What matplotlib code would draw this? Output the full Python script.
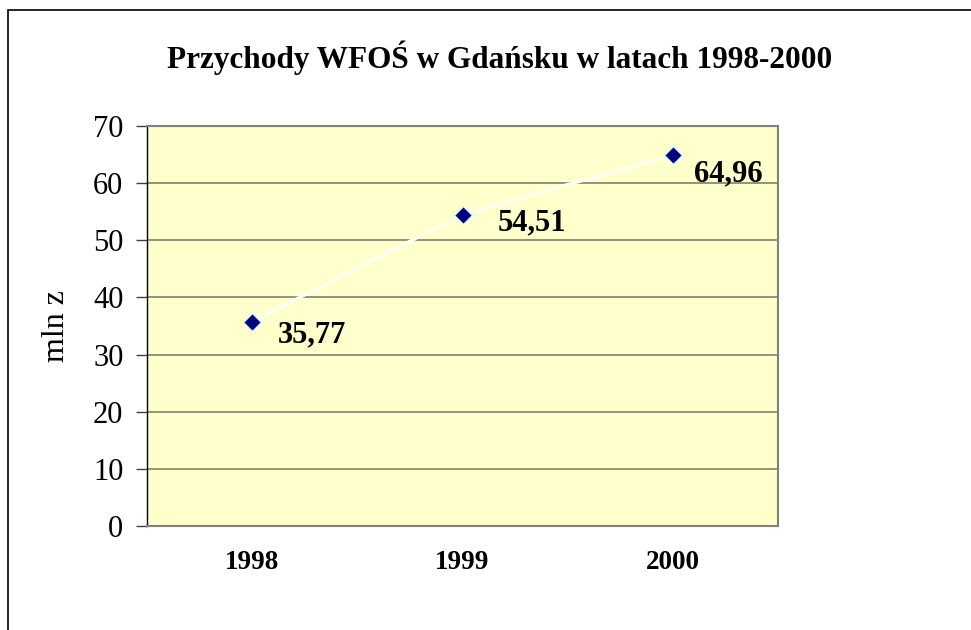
import matplotlib.pyplot as plt
from matplotlib.patches import Rectangle

years = ["1998", "1999", "2000"]
values = [35.77, 54.51, 64.96]
value_labels = ["35,77", "54,51", "64,96"]
y_ticks = [0, 10, 20, 30, 40, 50, 60, 70]

plt.rcParams['font.family'] = ['Liberation Serif', 'DejaVu Serif']

fig = plt.figure(figsize=(9.71, 6.30), dpi=100)
ax = fig.add_axes([147/971, 1-526/630, 631/971, 400/630])

# outer chart frame (cut off at right and bottom)
fig.patches.append(Rectangle((8/971, -0.1), 1.2, 1-10/630+0.1, transform=fig.transFigure,
                             fill=False, edgecolor='black', linewidth=1.2))

ax.set_facecolor('#FFFFCC')
x = list(range(len(years)))
ax.plot(x, values, color='#FFFFF0', linewidth=2.5, zorder=2)
ax.plot(x, values, linestyle='none', marker='D', markersize=9,
        markerfacecolor='#000080', markeredgecolor='#CCFFFF', markeredgewidth=1, zorder=3)

# label offsets in pixels
offsets = [(26, -13), (35, -8), (21, -19)]
for xi, v, lab, off in zip(x, values, value_labels, offsets):
    ax.annotate(lab, (xi, v), xytext=off, textcoords='offset pixels', fontsize=22,
                fontweight='bold', ha='left', va='center')

ax.set_xlim(-0.5, len(years) - 0.5)
ax.set_ylim(0, 70)
ax.set_yticks(y_ticks)
ax.set_yticklabels([str(t) for t in y_ticks], fontsize=22)
ax.set_xticks(x)
ax.set_xticklabels(years, fontsize=19.5, fontweight='bold')
ax.tick_params(axis='x', length=0, pad=17)
ax.tick_params(axis='y', length=8, width=1, color='#404040', pad=9)
ax.yaxis.grid(True, color='#808070', linewidth=1.2)
ax.set_axisbelow(True)

for s in ['top', 'right', 'bottom']:
    ax.spines[s].set_color('#808080')
    ax.spines[s].set_linewidth(1.5)
ax.spines['left'].set_color('black')
ax.spines['left'].set_linewidth(1)

ax.set_ylabel('mln z', fontsize=23, labelpad=16)
fig.text(500/971, 1-58/630, 'Przychody WFOŚ w Gdańsku w latach 1998-2000',
         fontsize=22.5, fontweight='bold', ha='center', va='center')

fig.savefig('out.png', dpi=100)
